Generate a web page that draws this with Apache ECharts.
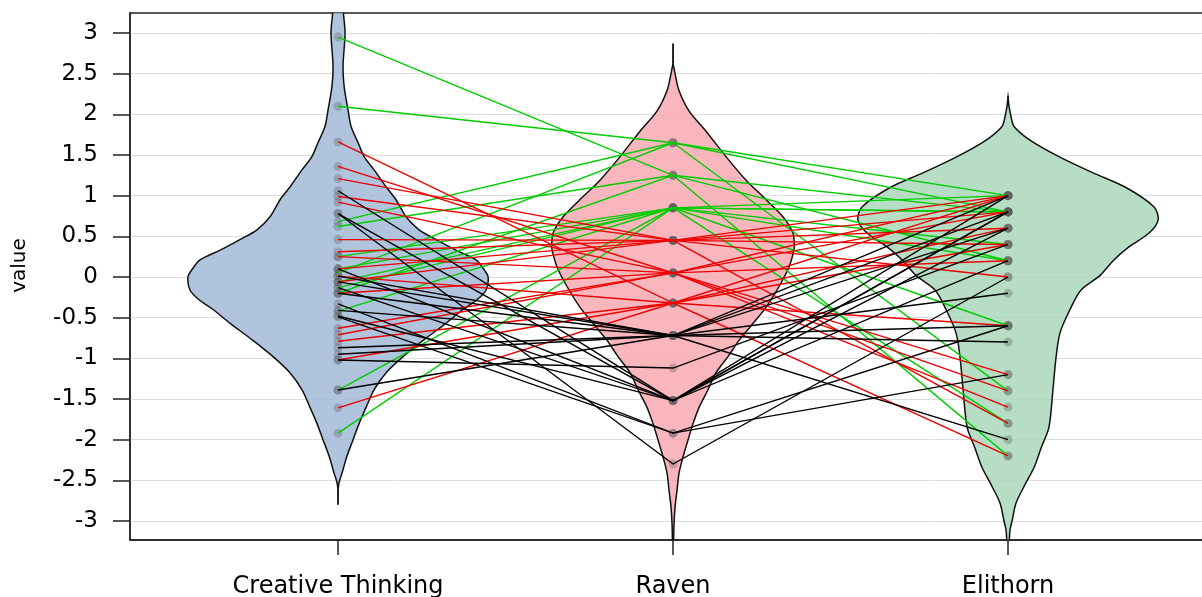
<!DOCTYPE html>
<html>
<head>
<meta charset="utf-8">
<script src="https://cdn.jsdelivr.net/npm/echarts@6/dist/echarts.min.js"></script>
<style>
html, body { margin: 0; padding: 0; background: #fff; }
#chart { width: 1202px; height: 597px; }
</style>
</head>
<body>
<div id="chart"></div>
<script>
const categories = ['Creative Thinking', 'Raven', 'Elithorn'];
const yTicks = [-3, -2.5, -2, -1.5, -1, -0.5, 0, 0.5, 1, 1.5, 2, 2.5, 3];

// one entry per subject
const creative = [2.95, 2.10, 0.68, 0.62, 0.05, 0.25, -0.13, -0.20, -0.42, -1.39, -1.92, -0.06, 0.10,
    1.66, 1.36, 1.21, 0.99, 0.92, 0.46, 0.31, 0.25, 0.10, 0.01, -0.20, -0.63, -0.71, -0.79, -1.02, -1.61, -0.06,
    1.06, 0.78, 0.78, -0.33, -0.49, -0.87, -0.95, -1.02, -1.39, 0.10, 0.01, -0.13, -0.41, -0.48, -0.06, -0.20];
const raven = [1.25, 1.65, 1.65, 1.25, 1.65, 0.85, 0.85, 1.25, 0.85, 0.85, 0.85, 0.85, 0.85,
    -0.32, 0.05, 0.45, 0.45, 0.05, 0.45, 0.45, 0.05, 0.45, -0.32, 0.05, 0.05, 0.05, -0.32, -0.32, -0.32, 0.45,
    -1.52, -1.52, -2.30, -1.92, -1.92, -0.72, -0.72, -1.12, -0.72, -1.52, -0.72, -1.52, -0.72, -1.52, -0.72, -0.72];
const elithorn = [0.2, 1.0, 0.8, 0.8, -1.4, 0.4, 0.8, -2.2, -0.6, -1.8, 1.0, 0.2, 0.8,
    0.6, 1.0, -1.8, 0.4, -1.6, 0.8, 1.0, -1.2, 0.0, 1.0, 0.2, -1.4, 0.8, -0.6, 0.4, -2.2, 0.6,
    0.6, 0.8, 0.0, -1.2, -0.6, -0.8, -0.6, 0.4, 1.0, 0.8, 0.6, 1.0, -2.0, 0.2, 0.8, -0.2];
const group = ['high', 'high', 'high', 'high', 'high', 'high', 'high', 'high', 'high', 'high', 'high', 'high', 'high',
    'mid', 'mid', 'mid', 'mid', 'mid', 'mid', 'mid', 'mid', 'mid', 'mid', 'mid', 'mid', 'mid', 'mid', 'mid', 'mid', 'mid',
    'low', 'low', 'low', 'low', 'low', 'low', 'low', 'low', 'low', 'low', 'low', 'low', 'low', 'low', 'low', 'low'];

// violin outlines: value levels and half widths (x axis units)
const ctLevels = [3.40, 3.25, 3.00, 2.60, 2.35, 2.05, 1.85, 1.65, 1.48, 1.32, 1.11, 0.95, 0.74, 0.58, 0.46, 0.33, 0.21, 0.09, 0.00, -0.16,
    -0.28, -0.40, -0.57, -0.78, -0.98, -1.18, -1.39, -1.60, -1.80, -2.00, -2.21, -2.41, -2.53, -2.62];
const ctWidths = [0.015, 0.016, 0.021, 0.015, 0.018, 0.030, 0.039, 0.060, 0.078, 0.107, 0.143, 0.173, 0.203, 0.242, 0.293, 0.352, 0.412, 0.436, 0.448, 0.442,
    0.415, 0.373, 0.322, 0.254, 0.194, 0.143, 0.107, 0.084, 0.063, 0.045, 0.026, 0.012, 0.003, 0];
const ctWhisker = [-2.62, -2.80];
const ravenLevels = [2.63, 2.50, 2.29, 2.04, 1.79, 1.48, 1.19, 0.95, 0.74, 0.54, 0.40, 0.33, 0.12, -0.12, -0.37, -0.57, -0.78, -0.98,
    -1.18, -1.39, -1.60, -1.80, -2.00, -2.21, -2.41, -2.62, -2.83, -3.03, -3.30, -3.50];
const ravenWidths = [0, 0.006, 0.018, 0.048, 0.099, 0.158, 0.218, 0.278, 0.328, 0.358, 0.362, 0.361, 0.346, 0.316, 0.278, 0.239, 0.197, 0.164,
    0.128, 0.104, 0.078, 0.060, 0.045, 0.030, 0.018, 0.012, 0.006, 0.003, 0.0015, 0];
const ravenWhisker = [2.63, 2.87];
const elithornLevels = [2.21, 2.10, 1.97, 1.85, 1.69, 1.48, 1.28, 1.10, 0.86, 0.70, 0.54, 0.37, 0.21, 0.02, -0.16, -0.40, -0.69, -1.00,
    -1.39, -1.85, -2.10, -2.34, -2.55, -2.78, -3.00, -3.11, -3.30, -3.50];
const elithornWidths = [0, 0.003, 0.009, 0.018, 0.063, 0.152, 0.254, 0.352, 0.436, 0.448, 0.421, 0.361, 0.316, 0.275, 0.218, 0.185, 0.155, 0.143,
    0.134, 0.122, 0.099, 0.078, 0.051, 0.024, 0.012, 0.006, 0.003, 0];
const elithornWhisker = [2.18, 2.22];

const violins = [
    { levels: ctLevels, widths: ctWidths, whisker: ctWhisker, fill: 'rgba(162,186,216,0.85)' },
    { levels: ravenLevels, widths: ravenWidths, whisker: ravenWhisker, fill: 'rgba(249,169,178,0.85)' },
    { levels: elithornLevels, widths: elithornWidths, whisker: elithornWhisker, fill: 'rgba(170,215,186,0.85)' }
];
const groupColor = { high: '#00cd00', mid: '#ee0000', low: '#000000' };

const font = 'DejaVu Sans';

const lineData = creative.map(function (c, i) {
    return {
        coords: [[1, c], [2, raven[i]], [3, elithorn[i]]],
        lineStyle: { color: groupColor[group[i]] }
    };
});

const pointData = [];
creative.forEach(function (c, i) {
    pointData.push([1, c], [2, raven[i]], [3, elithorn[i]]);
});

const option = {
    animation: false,
    grid: {
        left: 130, top: 13, right: -2, bottom: 57,
        outerBoundsMode: 'none',
        containLabel: false,
        show: true, borderColor: '#222', borderWidth: 1.5
    },
    xAxis: {
        type: 'value',
        min: 0.379,
        max: 3.585,
        axisLine: { show: true, onZero: false, lineStyle: { color: '#222', width: 1.5 } },
        axisTick: { show: true, length: 15, customValues: [1, 2, 3], lineStyle: { color: '#222', width: 1.5 } },
        axisLabel: {
            customValues: [1, 2, 3],
            margin: 35,
            color: '#000',
            fontFamily: font,
            fontSize: 24,
            formatter: function (v) { return categories[Math.round(v) - 1] || ''; }
        },
        splitLine: { show: false }
    },
    yAxis: {
        type: 'value',
        min: -3.234,
        max: 3.246,
        name: 'value',
        nameLocation: 'middle',
        nameGap: 100,
        nameTextStyle: { fontFamily: font, fontSize: 20, color: '#000', padding: [0, 0, 0, 22] },
        axisLine: { show: true, onZero: false, lineStyle: { color: '#222', width: 1.5 } },
        axisTick: { show: true, length: 17, customValues: yTicks, lineStyle: { color: '#222', width: 1.5 } },
        axisLabel: {
            customValues: yTicks,
            margin: 32,
            color: '#000',
            fontFamily: font,
            fontSize: 23
        },
        splitLine: { show: true, lineStyle: { color: '#dddddd', width: 1 } }
    },
    series: [
        {
            type: 'custom',
            clip: true,
            z: 1,
            data: violins.map(function (v, i) { return [i + 1, 0]; }),
            encode: { x: 0, y: 1 },
            renderItem: function (params, api) {
                const v = violins[params.dataIndex];
                const pos = api.value(0);
                const pts = [];
                for (let k = 0; k < v.levels.length; k++) {
                    pts.push(api.coord([pos + v.widths[k], v.levels[k]]));
                }
                for (let k = v.levels.length - 1; k >= 0; k--) {
                    pts.push(api.coord([pos - v.widths[k], v.levels[k]]));
                }
                const w0 = api.coord([pos, v.whisker[0]]);
                const w1 = api.coord([pos, v.whisker[1]]);
                return {
                    type: 'group',
                    children: [
                        {
                            type: 'polygon',
                            shape: { points: pts, smooth: 0.3 },
                            style: { fill: v.fill, stroke: '#111', lineWidth: 1.5 }
                        },
                        {
                            type: 'line',
                            shape: { x1: w0[0], y1: w0[1], x2: w1[0], y2: w1[1] },
                            style: { stroke: '#111', lineWidth: 1.8 }
                        }
                    ]
                };
            }
        },
        {
            type: 'scatter',
            z: 2,
            symbolSize: 9,
            itemStyle: { color: 'rgba(90,90,90,0.4)' },
            data: pointData
        },
        {
            type: 'lines',
            coordinateSystem: 'cartesian2d',
            polyline: true,
            z: 3,
            lineStyle: { width: 1.4, opacity: 1 },
            data: lineData
        }
    ]
};

const chart = echarts.init(document.getElementById('chart'));
chart.setOption(option);
</script>
</body>
</html>
